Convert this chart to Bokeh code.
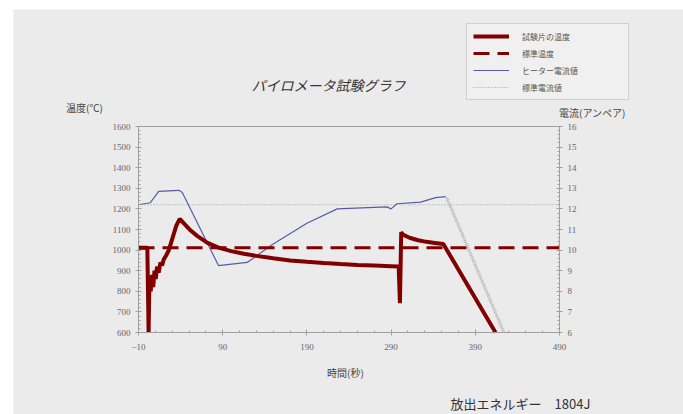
from bokeh.plotting import figure
from bokeh.models import Range1d, LinearAxis, FixedTicker, Legend, LegendItem, Label
from bokeh.embed import file_html
from bokeh.resources import INLINE

# ---- data ----
temp_t = [-10, 0.5, 2, 3, 4.5, 6, 7.5, 9, 10.5, 12, 14, 16, 18, 20, 23, 26, 29, 32, 35, 39,
          45, 52, 60, 72, 85, 100, 115, 130, 150, 170, 190, 210, 230, 250, 270, 290, 299,
          300.5, 302, 304, 312, 322, 332, 342, 352, 414]
temp_v = [1012, 1012, 600, 860, 800, 880, 820, 900, 860, 920, 890, 940, 925, 955, 975, 1000,
          1040, 1080, 1120, 1152, 1125, 1095, 1068, 1035, 1012, 995, 982, 972, 960, 950, 943,
          937, 932, 928, 925, 922, 920, 742, 1087, 1075, 1060, 1048, 1040, 1035, 1030, 600]

std_temp_t = [-10, 490]
std_temp_v = [1012, 1012]

cur_t = [-10, 4, 14, 38, 42, 85, 119, 150, 190, 226, 285, 290, 297, 325, 343, 355]
cur_v = [12.2, 12.3, 12.85, 12.9, 12.8, 9.25, 9.4, 10.3, 11.3, 12.0, 12.1, 12.0, 12.25, 12.33, 12.55, 12.6]

fall_t = [356, 424]
fall_v = [12.55, 6]

std_cur_t = [-10, 490]
std_cur_v = [12.2, 12.2]

x_ticks = [-10, 90, 190, 290, 390, 490]
y_ticks = [600, 700, 800, 900, 1000, 1100, 1200, 1300, 1400, 1500, 1600]
y2_ticks = [6, 7, 8, 9, 10, 11, 12, 13, 14, 15, 16]

legend_labels = ["試験片の温度", "標準温度", "ヒーター電流値", "標準電流値"]
title_text = "パイロメータ試験グラフ"
ylabel_text = "温度(℃)"
y2label_text = "電流(アンペア)"
xlabel_text = "時間(秒)"
energy_text = "放出エネルギー　1804J"

X0, X1 = -10, 490
Y0, Y1 = 600, 1600
C0, C1 = 6, 16

# ---- layout (canvas pixels) ----
W, H = 670, 405
AREA_L, AREA_R, AREA_T, AREA_B = 125, 546, 117, 323
BG = "#ebebeb"
JP = "Noto Sans CJK JP"
NUM = "Liberation Serif"

xs = (AREA_R - AREA_L) / (X1 - X0)
ys = (AREA_B - AREA_T) / (Y1 - Y0)
cs = (AREA_B - AREA_T) / (C1 - C0)
x_range = Range1d(X0 - AREA_L / xs, X1 + (W - AREA_R) / xs)
y_range = Range1d(Y0 - (H - AREA_B) / ys, Y1 + AREA_T / ys)
c_range = Range1d(C0 - (H - AREA_B) / cs, C1 + AREA_T / cs)

p = figure(width=W, height=H, output_backend="svg", toolbar_location=None,
           x_range=x_range, y_range=y_range, x_axis_location=None, y_axis_location=None,
           min_border=0)
p.margin = (9, 0, 0, 13)
p.extra_y_ranges = {"cur": c_range}
p.background_fill_color = BG
p.border_fill_color = BG
p.outline_line_color = None
p.grid.visible = False

def style_axis(ax):
    ax.axis_line_color = "#a0a0a0"
    ax.major_tick_line_color = "#a0a0a0"
    ax.minor_tick_line_color = "#a0a0a0"
    ax.major_tick_in = 3
    ax.major_tick_out = 3
    ax.minor_tick_in = 2
    ax.minor_tick_out = 0
    ax.major_label_text_font = NUM
    ax.major_label_text_font_size = "9px"
    ax.major_label_text_color = "#666666"
    ax.major_label_standoff = 5

xaxis = LinearAxis(fixed_location=Y0, bounds=(X0, X1),
                   ticker=FixedTicker(ticks=x_ticks, minor_ticks=list(range(X0, X1 + 1, 20))))
style_axis(xaxis)
xaxis.major_label_standoff = 8
p.add_layout(xaxis, "below")

yaxis = LinearAxis(fixed_location=X0, bounds=(Y0, Y1),
                   ticker=FixedTicker(ticks=y_ticks, minor_ticks=list(range(Y0, Y1 + 1, 20))))
style_axis(yaxis)
p.add_layout(yaxis, "left")

y2axis = LinearAxis(y_range_name="cur", fixed_location=X1, bounds=(C0, C1),
                    ticker=FixedTicker(ticks=y2_ticks, minor_ticks=[v / 5 for v in range(30, 81)]))
style_axis(y2axis)
p.add_layout(y2axis, "right")

top_border = LinearAxis(fixed_location=Y1, bounds=(X0, X1), ticker=FixedTicker(ticks=[]))
top_border.axis_line_color = "#a0a0a0"
top_border.major_label_text_font_size = "0px"
p.add_layout(top_border, "above")

# ---- series ----
r_std_cur = p.line(std_cur_t, std_cur_v, y_range_name="cur", line_color="#9a9a9a",
                   line_width=1, line_dash="1 2")
r_fall = p.line(fall_t, fall_v, y_range_name="cur", line_color="#b0b0b0",
                line_width=3, line_dash="1 1")
r_cur = p.line(cur_t, cur_v, y_range_name="cur", line_color="#5a5aaa", line_width=1.2)
r_std_temp = p.line(std_temp_t, std_temp_v, line_color="#800000", line_width=3,
                    line_dash="16 8")
r_temp = p.line(temp_t, temp_v, line_color="#800000", line_width=4)

legend = Legend(items=[LegendItem(label=legend_labels[0], renderers=[r_temp]),
                       LegendItem(label=legend_labels[1], renderers=[r_std_temp]),
                       LegendItem(label=legend_labels[2], renderers=[r_cur]),
                       LegendItem(label=legend_labels[3], renderers=[r_std_cur])],
                location=(453, 314))
legend.label_text_font = JP
legend.label_text_font_size = "8px"
legend.label_text_color = "#555555"
legend.glyph_width = 36
legend.glyph_height = 10
legend.label_height = 12
legend.label_width = 100
legend.spacing = 5
legend.padding = 6
legend.margin = 0
legend.label_standoff = 13
legend.background_fill_color = "#f0f0f0"
legend.border_line_color = "#b0b0b0"
p.add_layout(legend)

def add_text(txt, x, y_top, size, color="#444444", style="normal"):
    p.add_layout(Label(x=x, y=H - y_top, x_units="screen", y_units="screen", text=txt,
                       text_font=JP, text_font_size=size, text_align="center",
                       text_baseline="middle", text_color=color, text_font_style=style))

add_text(title_text, 315, 75, "14px", color="#333333", style="italic")
add_text(ylabel_text, 71, 98, "10px")
add_text(y2label_text, 579, 103, "10px")
add_text(xlabel_text, 332, 363, "10px")
add_text(energy_text, 507, 394, "13px", color="#333333")

open("out.html", "w").write(file_html(p, INLINE))
